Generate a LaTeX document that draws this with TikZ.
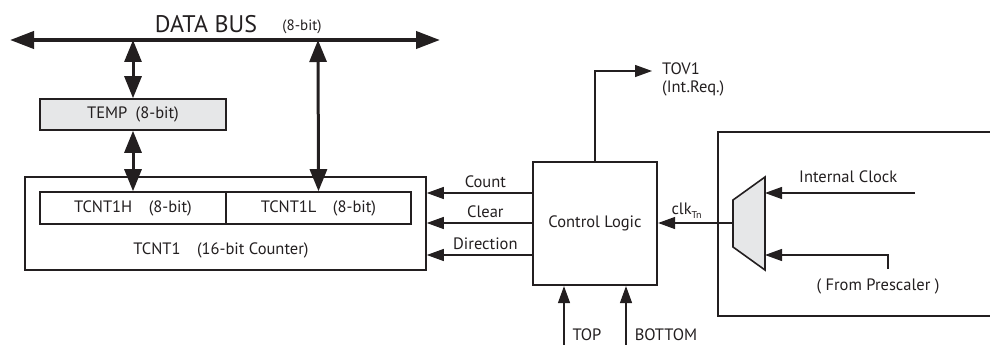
\documentclass[tikz,border=0pt]{standalone}
\usepackage{fontspec}
\setmainfont{PT Sans}
\usetikzlibrary{positioning, arrows.meta, calc}
\definecolor{avrink}{RGB}{35,31,32}
\definecolor{avrgray}{RGB}{230,231,232}
\tikzset{
    regbox/.style={rectangle, draw=avrink, line width=1.6pt, inner sep=0pt, align=center, font=\fontsize{16.5}{18}\selectfont, text=avrink},
    ctrlbox/.style={rectangle, draw=avrink, line width=2.2pt, inner sep=0pt, align=center, font=\fontsize{16.5}{18}\selectfont, text=avrink},
    lbl/.style={font=\fontsize{16.5}{18}\selectfont, text=avrink, inner sep=1pt},
    buslbl/.style={font=\fontsize{24}{26}\selectfont, text=avrink, inner sep=0pt},
    busarr/.style={{Triangle[length=24pt, width=17pt]}-{Triangle[length=24pt, width=17pt]}, line width=4pt, color=avrink},
    dblarr/.style={{Triangle[length=22pt, width=17pt]}-{Triangle[length=22pt, width=17pt]}, line width=3pt, color=avrink},
    sigarr/.style={-{Triangle[length=17pt, width=12pt]}, line width=1.3pt, color=avrink},
    muxfill/.style={draw=avrink, fill=avrgray, line width=1.6pt, line join=miter}
}
\begin{document}
\begin{tikzpicture}[x=1pt, y=-1pt]
    \useasboundingbox (0,0) rectangle (990,345);
    \clip (0,0) rectangle (990,345);

    % Data bus with its label
    \coordinate (busl) at (10,40);
    \coordinate (busr) at (440,40);
    \coordinate (tapl) at (133,40);
    \coordinate (tapr) at (318,40);
    \draw[busarr] (busl) -- (busr);
    \node[buslbl] (bustxt) at (206,24) {DATA BUS};
    \node[lbl, font=\fontsize{15}{17}\selectfont] (buswidth) at (302,27) {(8-bit)};

    % Registers
    \node[regbox, fill=avrgray, minimum width=186pt, minimum height=31pt] (temp) at (133,114.5) {TEMP\enspace(8-bit)};
    \node[regbox, minimum width=401pt, minimum height=93pt] (tcnt) at (225.5,223.5) {};
    \node[regbox, minimum width=186pt, minimum height=32pt] (tcnth) at (133,208) {TCNT1H\quad(8-bit)};
    \node[regbox, minimum width=185pt, minimum height=32pt] (tcntl) at (318.5,208) {TCNT1L\quad(8-bit)};
    \node[lbl] (tcntlbl) at (221,250) {TCNT1\quad(16-bit Counter)};

    \draw[dblarr] (tapl) -- (temp.north);
    \draw[dblarr] (temp.south) -- (tcnth.north);
    \draw[dblarr] (tapr) -- (tcntl.north);

    % Control logic and its outputs
    \node[ctrlbox, minimum width=124pt, minimum height=123pt] (ctrl) at (595,223.5) {Control Logic};
    \foreach \yy/\txt in {193/Count, 223/Clear, 255/Direction} {
        \draw[sigarr] (ctrl.west |- 0,\yy) -- (tcnt.east |- 0,\yy) node[lbl, midway, above=4pt, xshift=6pt] {\txt};
    }
    \coordinate (tov) at (652,71);
    \draw[sigarr] (ctrl.north) |- (tov);
    \node[lbl, right=9pt of tov, align=left, yshift=-8pt] (tovlbl) {TOV1\\(Int.Req.)};

    \coordinate (topin) at (564,345);
    \coordinate (botin) at (626,345);
    \draw[sigarr] (topin) -- (topin |- ctrl.south);
    \draw[sigarr] (botin) -- (botin |- ctrl.south);
    \node[lbl] (toplbl) at (587,335) {TOP};
    \node[lbl] (botlbl) at (666,335) {BOTTOM};

    % Clock select
    \node[rectangle, draw=avrink, line width=2pt, minimum width=282pt, minimum height=184pt] (clkbox) at (859,224) {};
    \draw[muxfill] (733,200) -- (765,177) -- (765,270) -- (733,247) -- cycle;
    \coordinate (muxout) at (733,223);
    \coordinate (muxa) at (765,193);
    \coordinate (muxb) at (765,255);
    \draw[sigarr] (muxout) -- (ctrl.east |- muxout) node[lbl, pos=0.62, above=3pt] (clklbl) {clk\raisebox{-4pt}{\fontsize{10}{10}\selectfont Tn}};

    \coordinate (intclk) at (915,193);
    \coordinate (presc) at (888,269);
    \draw[sigarr] (intclk) -- (muxa);
    \draw[sigarr] (presc) |- (muxb);
    \node[lbl, anchor=west] (intlbl) at (798,177) {Internal Clock};
    \node[lbl] (presclbl) at (878,286) {( From Prescaler )};
\end{tikzpicture}
\end{document}
